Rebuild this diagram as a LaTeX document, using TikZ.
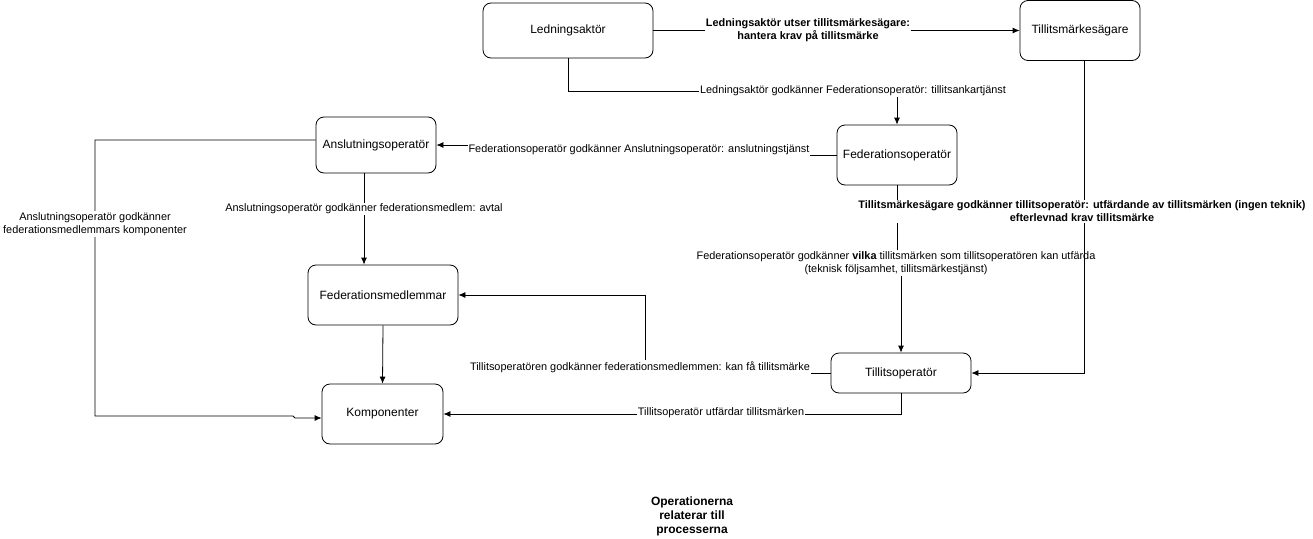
\documentclass[tikz,border=0pt]{standalone}
\usepackage{fontspec}
\setmainfont{Liberation Sans}
\usetikzlibrary{arrows.meta}
\begin{document}
\begin{tikzpicture}[x=1pt,y=-1pt,
  box/.style={draw,thick,rounded corners=8pt,fill=white,align=center,font=\fontsize{12}{14}\selectfont,inner sep=0pt},
  lbl/.style={fill=white,align=center,font=\fontsize{10.9}{13}\selectfont,inner sep=1pt},
  blbl/.style={lbl,font=\fontsize{10.9}{13}\selectfont\bfseries},
  arr/.style={-{Latex[length=7pt,width=6pt]},line width=0.8pt},
  ln/.style={line width=0.8pt}]
\useasboundingbox (0,0) rectangle (1313,538);
\node[box,minimum width=170pt,minimum height=55pt] (lead) at (568,30.5) {Ledningsaktör};
\node[box,minimum width=120pt,minimum height=60pt] (tms) at (1080,30.5) {Tillitsmärkesägare};
\node[box,minimum width=120pt,minimum height=56pt] (anslut) at (376,145) {Anslutningsoperatör};
\node[box,minimum width=120pt,minimum height=60pt] (fedop) at (897,155) {Federationsoperatör};
\node[box,minimum width=150pt,minimum height=60pt] (fm) at (383,295) {Federationsmedlemmar};
\node[box,minimum width=121pt,minimum height=60pt] (komp) at (382.5,414) {Komponenter};
\node[box,minimum width=140pt,minimum height=40pt] (topr) at (901,373) {Tillitsoperatör};

% 1
\draw[arr] (lead.east) -- (tms.west);
\node[blbl] at (808,30) {Ledningsaktör utser tillitsmärkesägare:\\hantera krav på tillitsmärke};
% 2
\draw[arr] (lead.south) |- (897,91) -- (fedop.north);
\node[lbl] at (853,91) {Ledningsaktör godkänner Federationsoperatör: tillitsankartjänst};
% 3
\draw[arr] (fedop.west) -| (639,145) -- (anslut.east);
\node[lbl] at (639,150) {Federationsoperatör godkänner Anslutningsoperatör: anslutningstjänst};
% 4
\draw[arr] (anslut.south -| 364,0) -- (fm.north -| 364,0);
\node[lbl] at (364,209) {Anslutningsoperatör godkänner federationsmedlem: avtal};
% 5
\draw[arr] (anslut.west |- 0,140) -| (95,416) -- (293,416) -- (295,418) -- (komp.west |- 0,418);
\node[lbl] at (95,224) {Anslutningsoperatör godkänner\\federationsmedlemmars komponenter};
% 6
\draw[arr] (fm.south) -- (komp.north);
% 7
\draw[arr] (fedop.south) -- (897,263) -- (901,263) -- (topr.north);
\node[lbl] at (896,263) {Federationsoperatör godkänner \textbf{vilka} tillitsmärken som tillitsoperatören kan utfärda\\(teknisk följsamhet, tillitsmärkestjänst)};
% 8
\draw[arr] (tms.south -| 1084,0) |- (topr.east);
\node[blbl] at (1082,211) {Tillitsmärkesägare godkänner tillitsoperatör: utfärdande av tillitsmärken (ingen teknik)\\efterlevnad krav tillitsmärke};
% 9
\draw[arr] (topr.west) -| (645,295) -- (fm.east);
\node[lbl] at (640,367) {Tillitsoperatören godkänner federationsmedlemmen: kan få tillitsmärke};
% 10
\draw[arr] (topr.south) |- (komp.east);
\node[lbl] at (721,413) {Tillitsoperatör utfärdar tillitsmärken};
% title
\node[align=center,font=\fontsize{12}{14}\selectfont\bfseries] (title) at (692,516) {Operationerna\\relaterar till\\processerna};
\end{tikzpicture}
\end{document}
